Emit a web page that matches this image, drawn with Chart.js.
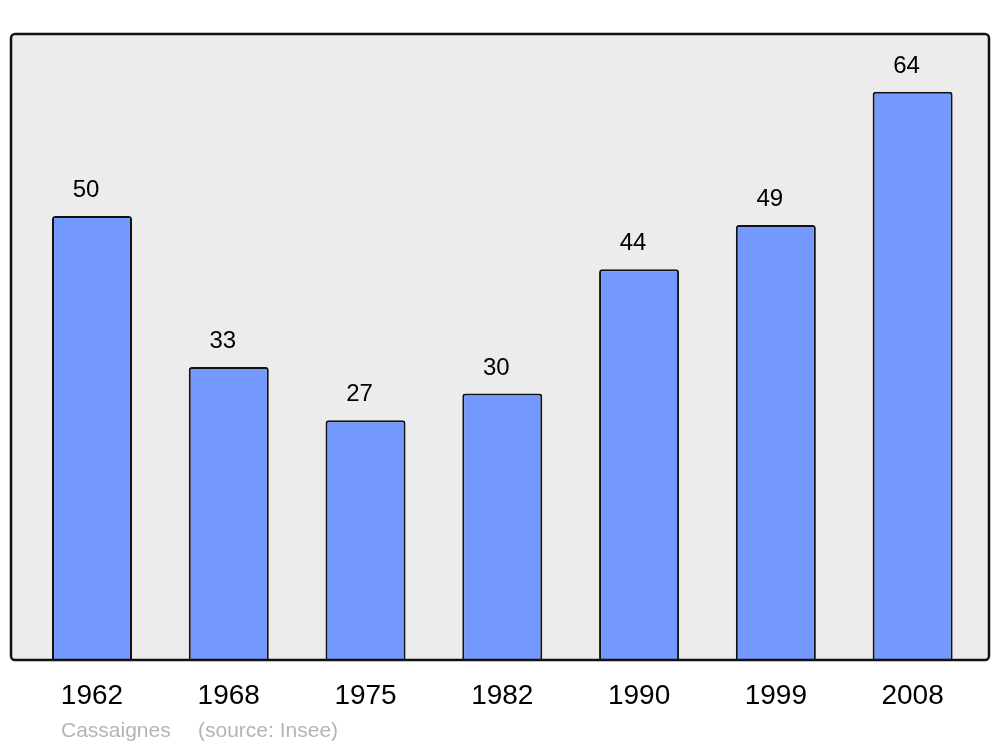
<!DOCTYPE html>
<html>
<head>
<meta charset="utf-8">
<script src="https://cdn.jsdelivr.net/npm/chart.js@4.4.0/dist/chart.umd.min.js"></script>
<style>
html,body{margin:0;padding:0;background:#fff;}
#c{display:block;}
</style>
</head>
<body>
<canvas id="c" width="1000" height="747"></canvas>
<script>
const categories = ["1962","1968","1975","1982","1990","1999","2008"];
const population = [50,33,27,30,44,49,64];
const footerName = "Cassaignes";
const footerSource = "(source: Insee)";

const frame = {
  id: 'frame',
  beforeDraw(chart) {
    const ctx = chart.ctx;
    ctx.save();
    ctx.fillStyle = '#ececec';
    ctx.beginPath();
    ctx.roundRect(11, 34, 978, 626, 4);
    ctx.fill();
    ctx.restore();
  },
  afterDatasetsDraw(chart) {
    const ctx = chart.ctx;
    ctx.save();
    ctx.strokeStyle = '#111';
    ctx.lineWidth = 2.5;
    ctx.beginPath();
    ctx.roundRect(11, 34, 978, 626, 4);
    ctx.stroke();
    // value labels
    const meta = chart.getDatasetMeta(0);
    ctx.fillStyle = '#000';
    ctx.font = '24px "Liberation Sans", Arial, sans-serif';
    ctx.textAlign = 'center';
    ctx.textBaseline = 'middle';
    meta.data.forEach((bar, i) => {
      ctx.fillText(String(population[i]), bar.x - 6, bar.y - 25.5);
    });
    // footer
    ctx.fillStyle = '#b4b4b4';
    ctx.font = '21px "Liberation Sans", Arial, sans-serif';
    ctx.textAlign = 'left';
    ctx.textBaseline = 'alphabetic';
    ctx.fillText(footerName, 61, 737);
    ctx.fillText(footerSource, 198, 737);
    ctx.restore();
  }
};

new Chart(document.getElementById('c'), {
  type: 'bar',
  data: {
    labels: categories,
    datasets: [{
      data: population,
      backgroundColor: '#7399ff',
      borderColor: '#111',
      borderWidth: 2,
      borderSkipped: 'bottom',
      borderRadius: {topLeft: 3, topRight: 3, bottomLeft: 0, bottomRight: 0},
      barPercentage: 0.585,
      categoryPercentage: 1
    }]
  },
  options: {
    responsive: false,
    animation: false,
    devicePixelRatio: 1,
    layout: { padding: { left: 23.6, right: 19, top: 34, bottom: 0 } },
    plugins: { legend: { display: false }, tooltip: { enabled: false } },
    scales: {
      x: {
        grid: { display: false, drawTicks: false },
        border: { display: false },
        ticks: { color: '#000', font: { size: 28, family: '"Liberation Sans", Arial, sans-serif' }, padding: 19, maxRotation: 0 },
        afterFit(scale) { scale.height = 87; }
      },
      y: {
        display: false,
        min: 0,
        max: 70.5
      }
    }
  },
  plugins: [frame]
});
</script>
</body>
</html>
